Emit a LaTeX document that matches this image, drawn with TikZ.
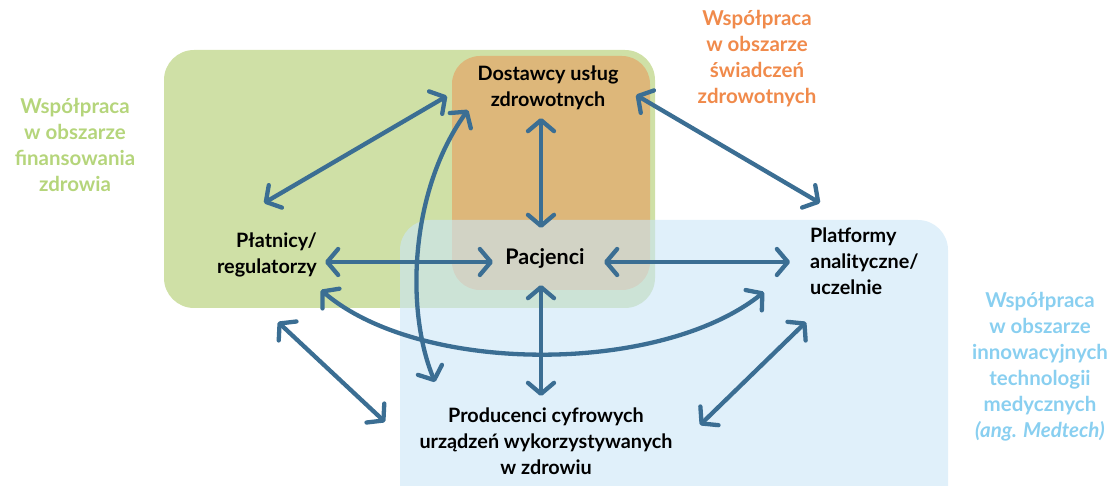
\documentclass[tikz,border=0pt]{standalone}
\usepackage{fontspec}
\setmainfont{Lato}
\usetikzlibrary{arrows.meta}
\definecolor{arr}{HTML}{3B6E93}
\definecolor{greenbg}{HTML}{CFE0A6}
\definecolor{orangebg}{HTML}{DDB77A}
\definecolor{bluebg}{RGB}{203,230,247}
\definecolor{greentxt}{HTML}{B5D57B}
\definecolor{orangetxt}{HTML}{F08A4B}
\definecolor{bluetxt}{RGB}{137,207,240}
\begin{document}
\begin{tikzpicture}[x=1pt,y=-1pt,
  conn/.style={draw=arr, line width=4.3pt, line cap=round,
    {Straight Barb[length=11pt,width=26pt,round]}-{Straight Barb[length=11pt,width=26pt,round]}},
  lbl/.style={font=\fontsize{19.8}{26}\selectfont\bfseries, align=center, inner sep=0pt},
  area/.style={font=\fontsize{20.5}{26}\selectfont\bfseries, align=center, inner sep=0pt}]
\useasboundingbox (0,0) rectangle (1114,486);
\clip (0,0) rectangle (1114,486);
% background areas
\fill[greenbg, rounded corners=30pt] (164,50) rectangle (655,308);
\fill[orangebg, rounded corners=28pt] (452,56) rectangle (650,290);
\fill[bluebg, fill opacity=0.6, rounded corners=30pt] (400,220) rectangle (948,530);
% area labels
\node[area, text=greentxt] (lg) at (75,145) {Współpraca\\w obszarze\\finansowania\\zdrowia};
\node[area, text=orangetxt] (lo) at (757,59) {Współpraca\\w obszarze\\świadczeń\\zdrowotnych};
\node[area, text=bluetxt] (lb) at (1040,367) {Współpraca\\w obszarze\\innowacyjnych\\technologii\\medycznych\\\textit{(ang. Medtech)}};
% actors
\node[lbl] (dost) at (548,88) {Dostawcy usług\\zdrowotnych};
\node[lbl, align=right, anchor=east] (plat) at (317,255) {Płatnicy/\\regulatorzy};
\node[lbl, font=\fontsize{21.5}{26}\selectfont\bfseries] (pac) at (545,258) {Pacjenci};
\node[lbl, align=left, anchor=west] (platf) at (810,261) {Platformy\\analityczne/\\uczelnie};
\node[lbl] (prod) at (546,441) {Producenci cyfrowych\\urządzeń wykorzystywanych\\w zdrowiu};
% connector end points
\coordinate (platNE) at (264,203);
\coordinate (dostW) at (447,96);
\coordinate (dostS) at (541,118);
\coordinate (pacN) at (541,228);
\coordinate (platE) at (325,262);
\coordinate (pacW) at (493,262);
\coordinate (pacE) at (604,262);
\coordinate (platfW) at (790,262);
\coordinate (dostE) at (636,95);
\coordinate (platfNW) at (820,203);
\coordinate (pacS) at (541,285);
\coordinate (prodN) at (541,396);
\coordinate (dostSW) at (468,110);
\coordinate (prodNW) at (435,382);
\coordinate (platSE) at (321,290);
\coordinate (platfSW) at (764,292);
\coordinate (platS) at (278,322);
\coordinate (prodW) at (385,422);
\coordinate (platfS) at (806,322);
\coordinate (prodE) at (700,425);
% connectors
\draw[conn] (platNE) -- (dostW);
\draw[conn] (dostS) -- (pacN);
\draw[conn] (platE) -- (pacW);
\draw[conn] (pacE) -- (platfW);
\draw[conn] (dostE) -- (platfNW);
\draw[conn] (pacS) -- (prodN);
\draw[conn] (dostSW) .. controls (410,190) and (405,310) .. (prodNW);
\draw[conn] (platSE) .. controls (420,375) and (660,375) .. (platfSW);
\draw[conn] (platS) -- (prodW);
\draw[conn] (platfS) -- (prodE);
\end{tikzpicture}
\end{document}
